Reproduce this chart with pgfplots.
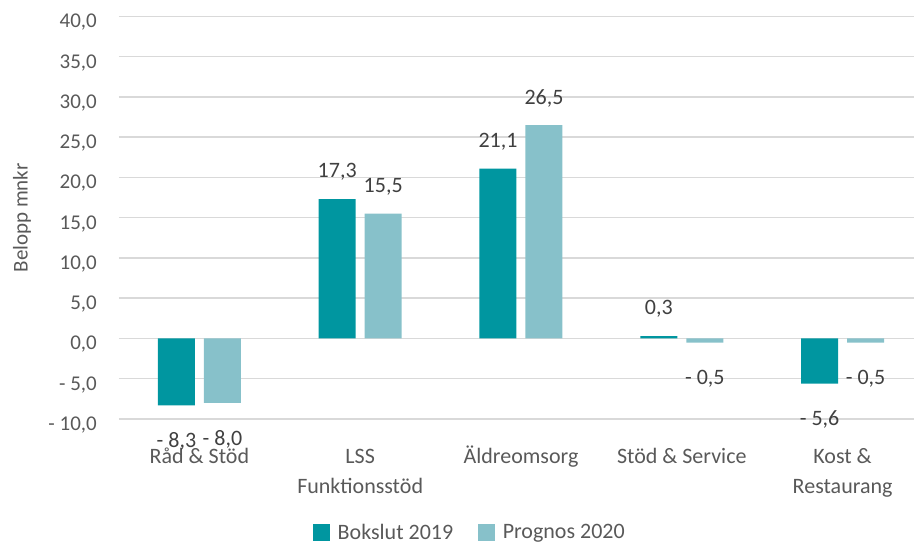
\documentclass[border=0pt]{standalone}
\usepackage{fontspec}
\setmainfont{Carlito}
\usepackage{pgfplots}
\usepackage{pgfplotstable}
\pgfplotsset{compat=1.18}
\definecolor{dark}{HTML}{0096A0}
\definecolor{light}{HTML}{87C1CA}
\definecolor{txt}{HTML}{595959}
\definecolor{lbl}{HTML}{404040}
\definecolor{gridc}{HTML}{D9D9D9}

\pgfplotstableread{
x y lab
0 -8.3 {- 8,3}
1 17.3 {17,3}
2 21.1 {21,1}
3 0.3 {0,3}
4 -5.6 {- 5,6}
}\bokslut
\pgfplotstableread{
x y lab
0 -8.0 {- 8,0}
1 15.5 {15,5}
2 26.5 {26,5}
3 -0.5 {- 0,5}
4 -0.5 {- 0,5}
}\prognos

\begin{document}
\begin{tikzpicture}
\path[use as bounding box] (-119pt,-126pt) rectangle (795pt,419pt);
\begin{axis}[
  scale only axis, width=804pt, height=402.5pt,
  xmin=-0.5, xmax=4.5, ymin=-10, ymax=40,
  axis line style={draw=none}, major tick length=0pt, tick style={draw=none},
  ybar=9pt, bar width=37pt,
  ytick={-10,-5,...,40},
  yticklabels={{- 10,0},{- 5,0},{0,0},{5,0},{10,0},{15,0},{20,0},{25,0},{30,0},{35,0},{40,0}},
  xtick={0,1,2,3,4},
  xticklabels={{\strut Råd \& Stöd},{\strut LSS\\Funktionsstöd},{\strut Äldreomsorg},{\strut Stöd \& Service},{\strut Kost \&\\Restaurang}},
  ymajorgrids, grid style={gridc, line width=1.5pt},
  clip=false,
  ylabel={Belopp mnkr},
  every axis y label/.style={at={(axis description cs:-0.1206,0.5)}, rotate=90, anchor=center, font=\fontsize{21}{25}\selectfont, text=txt},
  yticklabel style={font=\fontsize{21}{25}\selectfont, text=txt, inner sep=0pt, anchor=east, xshift=-22pt, yshift=-6pt},
  xticklabel style={font=\fontsize{22}{30}\selectfont, text=txt, align=center, anchor=north, inner sep=0pt, yshift=-23pt},
  nodes near coords, point meta=explicit symbolic,
  visualization depends on={rawy\as\yv},
  every node near coord/.append style={font=\fontsize{22}{26}\selectfont, text=lbl, anchor=center, yshift={ifthenelse(\yv>0,27,-36)}},
  legend style={at={(axis description cs:0.4353,-0.282)}, anchor=center, draw=none, fill=none, legend columns=2, font=\fontsize{22}{26}\selectfont, text=txt, inner sep=0pt, nodes={inner sep=0pt}, /tikz/every even column/.append style={column sep=25pt}, /tikz/every odd column/.append style={column sep=8pt}},
  every axis plot post/.append style={legend image code/.code={\fill[#1] (0pt,-8.25pt) rectangle (16.5pt,8.25pt);}},
]
\addplot[fill=dark, draw=none] table[x=x, y=y, meta=lab]{\bokslut};
\addplot[fill=light, draw=none] table[x=x, y=y, meta=lab]{\prognos};
\legend{Bokslut 2019, Prognos 2020}
\end{axis}
\end{tikzpicture}
\end{document}
